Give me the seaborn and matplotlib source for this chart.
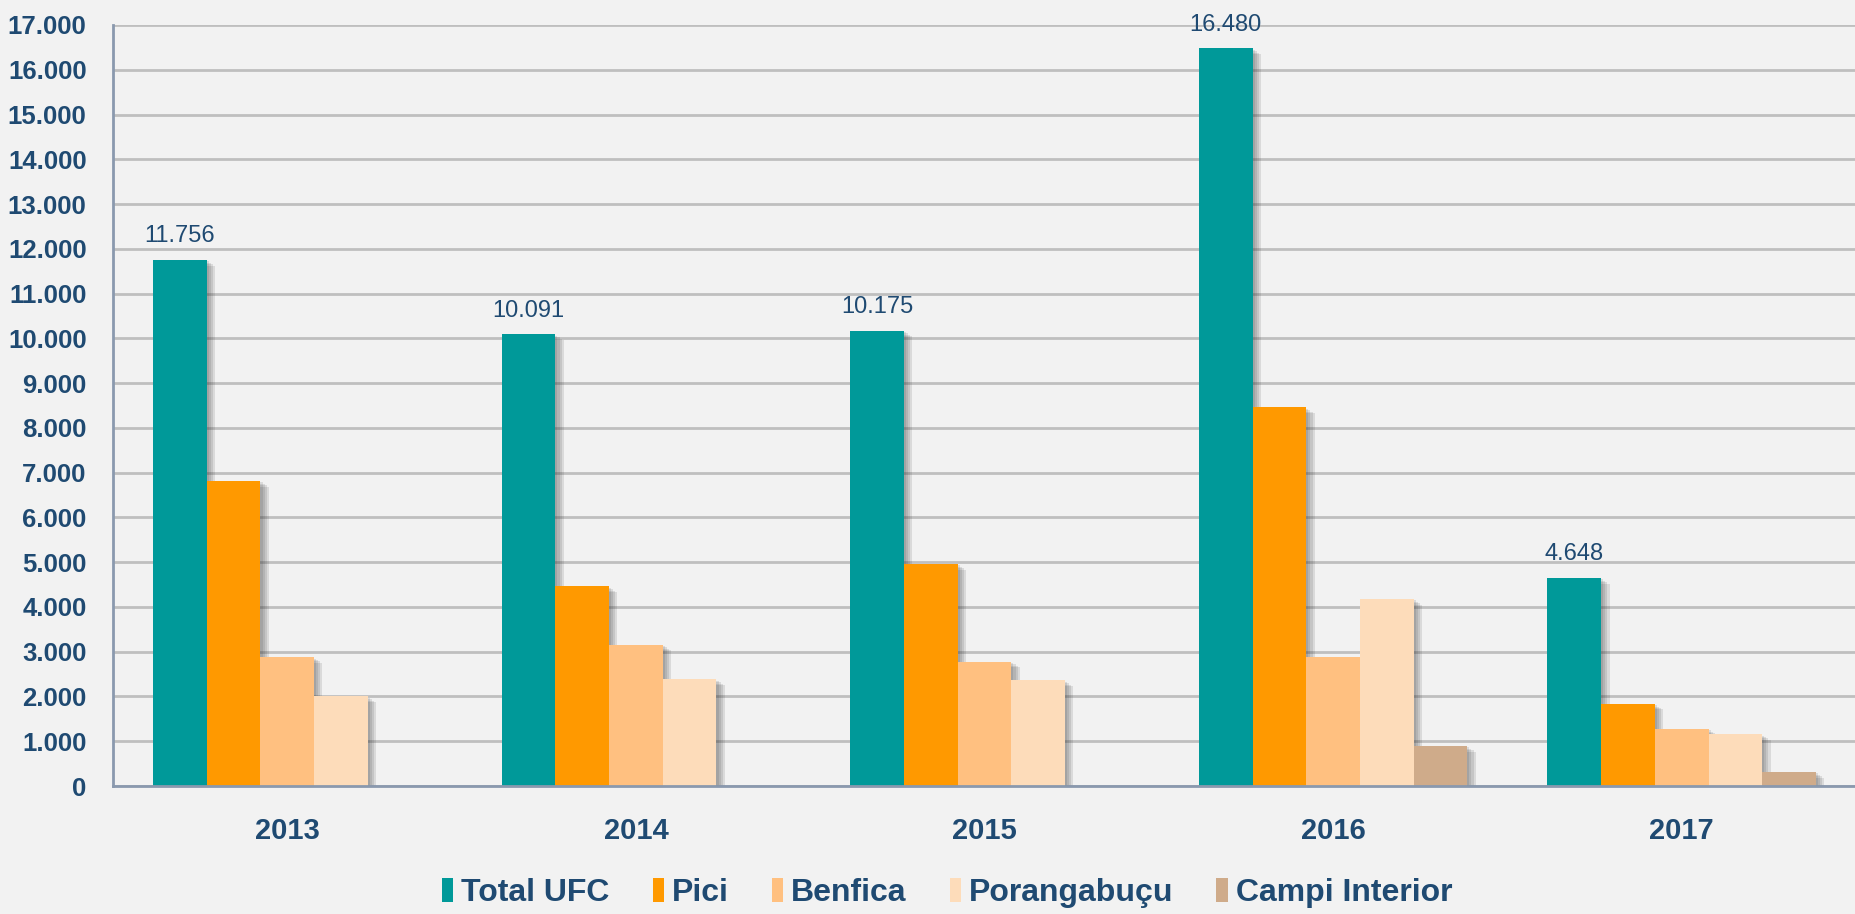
import pandas as pd
import matplotlib
matplotlib.use('Agg')
import matplotlib.pyplot as plt
import matplotlib.patheffects as pe
from matplotlib.ticker import FuncFormatter, MultipleLocator
import seaborn as sns

# values
years = ['2013', '2014', '2015', '2016', '2017']
series = ['Total UFC', 'Pici', 'Benfica', 'Porangabuçu', 'Campi Interior']
total_ufc = [11756, 10091, 10175, 16480, 4648]
pici = [6820, 4460, 4960, 8460, 1840]
benfica = [2880, 3160, 2780, 2890, 1280]
porangabucu = [2000, 2380, 2360, 4180, 1160]
campi_interior = [None, None, None, 900, 320]

colors = ['#009999', '#FF9900', '#FFC080', '#FDDCBA', '#CFAB8A']
navy = '#1F4A72'

rows = []
for name, vals in zip(series, [total_ufc, pici, benfica, porangabucu, campi_interior]):
    for yr, v in zip(years, vals):
        if v is not None:
            rows.append({'ano': yr, 'serie': name, 'valor': v})
df = pd.DataFrame(rows)

sns.set_style('white')
plt.rcParams['font.family'] = ['Liberation Sans Narrow', 'Liberation Sans', 'DejaVu Sans']

fig = plt.figure(figsize=(18.56, 9.14), dpi=100, facecolor='#F2F2F2')
ax = fig.add_axes([113 / 1856, 1 - 786 / 914, 1 - 113 / 1856, (786 - 25) / 914])
ax.set_facecolor('#F2F2F2')

sns.barplot(data=df, x='ano', y='valor', hue='serie', order=years, hue_order=series,
            palette=colors, width=0.77, errorbar=None, linewidth=0, saturation=1, ax=ax)

# soft drop shadow, a few layers to fake the blur
shadow = [pe.SimplePatchShadow(offset=(o, -o * 0.7), shadow_rgbFace='#333333', alpha=0.12)
          for o in (6, 4.5, 3, 1.5)]
for bar in ax.patches:
    bar.set_path_effects(shadow + [pe.Normal()])

ax.set_ylim(0, 17000)
ax.set_xlim(-0.5, 4.5)
ax.yaxis.set_major_locator(MultipleLocator(1000))
ax.yaxis.set_major_formatter(FuncFormatter(lambda v, p: f'{int(v):,}'.replace(',', '.')))
ax.grid(axis='y', color='#BFBFBF', linewidth=2)
ax.set_axisbelow(True)
for s in ['top', 'right']:
    ax.spines[s].set_visible(False)
for s in ['left', 'bottom']:
    ax.spines[s].set_color('#8A99AE')
    ax.spines[s].set_linewidth(2)
ax.tick_params(axis='y', length=0, pad=19, labelsize=18.5, labelcolor=navy)
ax.tick_params(axis='x', length=0, pad=22, labelsize=21, labelcolor=navy)
for t in ax.get_yticklabels() + ax.get_xticklabels():
    t.set_fontweight('bold')
ax.set_xlabel('')
ax.set_ylabel('')

ax.bar_label(ax.containers[0], labels=[f'{v:,}'.replace(',', '.') for v in total_ufc],
             padding=9, fontsize=17, color=navy, clip_on=False)

handles, labels = ax.get_legend_handles_labels()
leg = ax.legend(handles, labels, loc='center', bbox_to_anchor=(947 / 1856, 1 - 893 / 914),
                bbox_transform=fig.transFigure, ncol=5, frameon=False, handlelength=0.35,
                handleheight=0.8, handletextpad=0.25, columnspacing=1.35,
                prop={'size': 23, 'weight': 'bold'}, labelcolor=navy)
for h in leg.legend_handles:
    h.set_path_effects([])

plt.savefig('out.png', dpi=100, facecolor=fig.get_facecolor())
plt.close()
